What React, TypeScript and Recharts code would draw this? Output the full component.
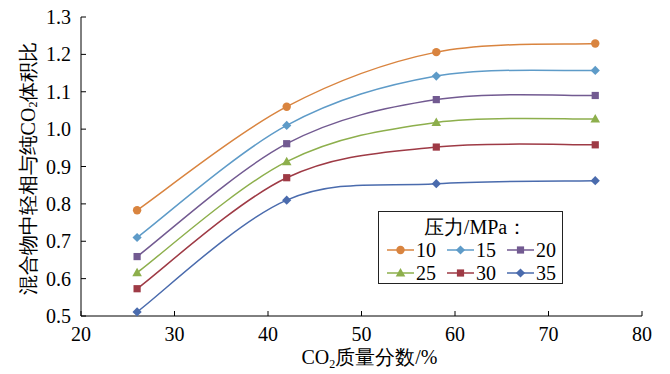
import { LineChart, Line, XAxis, YAxis, Label } from "recharts";

const co2Fraction = [26, 42, 58, 75];
const ratio10 = [0.783, 1.06, 1.206, 1.229];
const ratio15 = [0.71, 1.01, 1.142, 1.157];
const ratio20 = [0.659, 0.961, 1.079, 1.09];
const ratio25 = [0.616, 0.913, 1.018, 1.027];
const ratio30 = [0.573, 0.87, 0.952, 0.958];
const ratio35 = [0.511, 0.81, 0.854, 0.862];

const xTicks = [20, 30, 40, 50, 60, 70, 80];
const yTicks = [0.5, 0.6, 0.7, 0.8, 0.9, 1.0, 1.1, 1.2, 1.3];

const SERIES = [
  { key: "p10", name: "10", values: ratio10, color: "#D9843F", shape: "circle" },
  { key: "p15", name: "15", values: ratio15, color: "#5E9BC8", shape: "diamond" },
  { key: "p20", name: "20", values: ratio20, color: "#725A91", shape: "square" },
  { key: "p25", name: "25", values: ratio25, color: "#8DAF4C", shape: "triangle" },
  { key: "p30", name: "30", values: ratio30, color: "#9E3A45", shape: "square" },
  { key: "p35", name: "35", values: ratio35, color: "#4A6BAD", shape: "diamond" },
];

const data = co2Fraction.map((x, i) => {
  const row: Record<string, number> = { x };
  SERIES.forEach((s) => (row[s.key] = s.values[i]));
  return row;
});

const FONT = "Liberation Serif, Times New Roman, DejaVu Serif, serif";

// Excel-like smoothed line (bezier with neighbour tangents / 6)
const excelCurve = (context: any) => {
  let xs: number[] = [];
  let ys: number[] = [];
  return {
    areaStart() {},
    areaEnd() {},
    lineStart() {
      xs = [];
      ys = [];
    },
    point(x: number, y: number) {
      xs.push(+x);
      ys.push(+y);
    },
    lineEnd() {
      const n = xs.length;
      if (!n) return;
      context.moveTo(xs[0], ys[0]);
      for (let i = 0; i < n - 1; i++) {
        const a = Math.max(i - 1, 0);
        const d = Math.min(i + 2, n - 1);
        const c1x = xs[i] + (xs[i + 1] - xs[a]) / 6;
        const c1y = ys[i] + (ys[i + 1] - ys[a]) / 6;
        const c2x = xs[i + 1] - (xs[d] - xs[i]) / 6;
        const c2y = ys[i + 1] - (ys[d] - ys[i]) / 6;
        context.bezierCurveTo(c1x, c1y, c2x, c2y, xs[i + 1], ys[i + 1]);
      }
    },
  };
};

const Marker = ({ cx, cy, shape, color }: any) => {
  if (cx == null || cy == null) return null;
  if (shape === "circle") return <circle cx={cx} cy={cy} r={4.2} fill={color} />;
  if (shape === "square") return <rect x={cx - 3.6} y={cy - 3.6} width={7.2} height={7.2} fill={color} />;
  if (shape === "triangle")
    return <polygon points={`${cx},${cy - 5} ${cx + 4.8},${cy + 3.5} ${cx - 4.8},${cy + 3.5}`} fill={color} />;
  return <polygon points={`${cx},${cy - 4.6} ${cx + 4.6},${cy} ${cx},${cy + 4.6} ${cx - 4.6},${cy}`} fill={color} />;
};

const YTitle = ({ viewBox }: any) => {
  const cx = 28;
  const cy = viewBox.y + viewBox.height / 2 + 2;
  return (
    <text
      x={cx}
      y={cy}
      transform={`rotate(-90, ${cx}, ${cy})`}
      textAnchor="middle"
      dominantBaseline="central"
      fontSize={20}
      fontFamily={FONT}
      fill="#000"
    >
      混合物中轻相与纯CO<tspan fontSize={12} dy={5}>2</tspan>
      <tspan dy={-5}>体积比</tspan>
    </text>
  );
};

const XTitle = ({ viewBox }: any) => {
  const cx = viewBox.x + viewBox.width / 2 + 8;
  return (
    <text x={cx} y={364} textAnchor="middle" fontSize={20} fontFamily={FONT} fill="#000">
      CO<tspan fontSize={12} dy={4}>2</tspan>
      <tspan dy={-4}>质量分数/%</tspan>
    </text>
  );
};

const LegendBox = () => (
  <div
    style={{
      position: "absolute",
      left: 378,
      top: 211,
      width: 183,
      height: 71,
      border: "1px solid #222",
      background: "#fff",
      fontFamily: FONT,
      fontSize: 20,
    }}
  >
    <div style={{ textAlign: "center", lineHeight: "22px", marginTop: 4, paddingLeft: 10 }}>压力/MPa：</div>
    <svg width={183} height={46} style={{ display: "block" }}>
      {SERIES.map((s, i) => {
        const col = i % 3;
        const row = Math.floor(i / 3);
        const x0 = 8 + col * 60;
        const y = 12 + row * 23;
        return (
          <g key={s.key}>
            <line x1={x0} x2={x0 + 27} y1={y} y2={y} stroke={s.color} strokeWidth={1.5} />
            <Marker cx={x0 + 13.5} cy={y} shape={s.shape} color={s.color} />
            <text x={x0 + 29} y={y + 6.5} fontSize={20} fontFamily={FONT} fill="#000">
              {s.name}
            </text>
          </g>
        );
      })}
    </svg>
  </div>
);

export default function App() {
  return (
    <div style={{ position: "absolute", left: 0, top: 0, width: 670, height: 374, background: "#fff" }}>
      <LineChart width={670} height={374} data={data} margin={{ top: 17, right: 28, bottom: 0, left: 0 }}>
        <XAxis
          dataKey="x"
          type="number"
          domain={[20, 80]}
          ticks={xTicks}
          axisLine={{ stroke: "#000", strokeWidth: 1 }}
          tickLine={{ stroke: "#000", strokeWidth: 1 }}
          tickSize={-5}
          tickMargin={16}
          height={58}
          tick={{ fill: "#000", fontSize: 20, fontFamily: FONT }}
        >
          <Label content={<XTitle />} />
        </XAxis>
        <YAxis
          type="number"
          domain={[0.5, 1.3]}
          ticks={yTicks}
          tickFormatter={(v: number) => v.toFixed(1)}
          axisLine={{ stroke: "#000", strokeWidth: 1 }}
          tickLine={{ stroke: "#000", strokeWidth: 1 }}
          tickSize={-5}
          tickMargin={15}
          width={81}
          tick={{ fill: "#000", fontSize: 20, fontFamily: FONT }}
        >
          <Label content={<YTitle />} />
        </YAxis>
        {SERIES.map((s) => (
          <Line
            key={s.key}
            dataKey={s.key}
            name={s.name}
            type={excelCurve as any}
            stroke={s.color}
            strokeWidth={1.5}
            isAnimationActive={false}
            dot={(p: any) => <Marker key={`${s.key}-${p.index}`} cx={p.cx} cy={p.cy} shape={s.shape} color={s.color} />}
            activeDot={false}
          />
        ))}
      </LineChart>
      <LegendBox />
    </div>
  );
}
